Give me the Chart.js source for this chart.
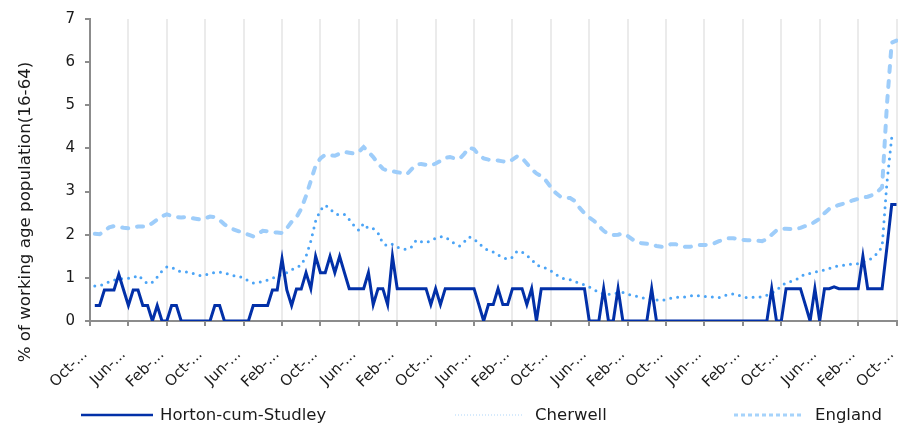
<!DOCTYPE html>
<html>
<head>
<meta charset="utf-8">
<script src="https://cdn.jsdelivr.net/npm/chart.js@4.4.1/dist/chart.umd.min.js"></script>
<style>
html,body{margin:0;padding:0;background:#ffffff;}
#wrap{width:898px;height:425px;position:relative;}
</style>
</head>
<body>
<div id="wrap"><canvas id="c" width="898" height="425"></canvas></div>
<script>
// ---------- DATA ----------
const categories = [
  "Oct-06","Nov-06","Dec-06",
  "Jan-07","Feb-07","Mar-07","Apr-07","May-07","Jun-07","Jul-07","Aug-07","Sep-07","Oct-07","Nov-07","Dec-07",
  "Jan-08","Feb-08","Mar-08","Apr-08","May-08","Jun-08","Jul-08","Aug-08","Sep-08","Oct-08","Nov-08","Dec-08",
  "Jan-09","Feb-09","Mar-09","Apr-09","May-09","Jun-09","Jul-09","Aug-09","Sep-09","Oct-09","Nov-09","Dec-09",
  "Jan-10","Feb-10","Mar-10","Apr-10","May-10","Jun-10","Jul-10","Aug-10","Sep-10","Oct-10","Nov-10","Dec-10",
  "Jan-11","Feb-11","Mar-11","Apr-11","May-11","Jun-11","Jul-11","Aug-11","Sep-11","Oct-11","Nov-11","Dec-11",
  "Jan-12","Feb-12","Mar-12","Apr-12","May-12","Jun-12","Jul-12","Aug-12","Sep-12","Oct-12","Nov-12","Dec-12",
  "Jan-13","Feb-13","Mar-13","Apr-13","May-13","Jun-13","Jul-13","Aug-13","Sep-13","Oct-13","Nov-13","Dec-13",
  "Jan-14","Feb-14","Mar-14","Apr-14","May-14","Jun-14","Jul-14","Aug-14","Sep-14","Oct-14","Nov-14","Dec-14",
  "Jan-15","Feb-15","Mar-15","Apr-15","May-15","Jun-15","Jul-15","Aug-15","Sep-15","Oct-15","Nov-15","Dec-15",
  "Jan-16","Feb-16","Mar-16","Apr-16","May-16","Jun-16","Jul-16","Aug-16","Sep-16","Oct-16","Nov-16","Dec-16",
  "Jan-17","Feb-17","Mar-17","Apr-17","May-17","Jun-17","Jul-17","Aug-17","Sep-17","Oct-17","Nov-17","Dec-17",
  "Jan-18","Feb-18","Mar-18","Apr-18","May-18","Jun-18","Jul-18","Aug-18","Sep-18","Oct-18","Nov-18","Dec-18",
  "Jan-19","Feb-19","Mar-19","Apr-19","May-19","Jun-19","Jul-19","Aug-19","Sep-19","Oct-19","Nov-19","Dec-19",
  "Jan-20","Feb-20","Mar-20","Apr-20","May-20","Jun-20","Jul-20","Aug-20","Sep-20","Oct-20"
];

const hortonValues = [null,
  0.36, 0.36, 0.72, 0.72, 0.72, 1.08, 0.72, 0.36, 0.72, 0.72,
  0.36, 0.36, 0, 0.36, 0, 0, 0.36, 0.36, 0, 0,
  0, 0, 0, 0, 0, 0.36, 0.36, 0, 0, 0,
  0, 0, 0, 0.36, 0.36, 0.36, 0.36, 0.72, 0.72, 1.44,
  0.72, 0.36, 0.74, 0.74, 1.12, 0.75, 1.5, 1.12, 1.12, 1.5,
  1.12, 1.5, 1.12, 0.75, 0.75, 0.75, 0.75, 1.12, 0.38, 0.75,
  0.75, 0.38, 1.5, 0.75, 0.75, 0.75, 0.75, 0.75, 0.75, 0.75,
  0.38, 0.75, 0.38, 0.75, 0.75, 0.75, 0.75, 0.75, 0.75, 0.75,
  0.38, 0, 0.38, 0.38, 0.75, 0.38, 0.38, 0.75, 0.75, 0.75,
  0.38, 0.75, 0, 0.75, 0.75, 0.75, 0.75, 0.75, 0.75, 0.75,
  0.75, 0.75, 0.75, 0, 0, 0, 0.75, 0, 0, 0.75,
  0, 0, 0, 0, 0, 0, 0.75, 0, 0, 0,
  0, 0, 0, 0, 0, 0, 0, 0, 0, 0,
  0, 0, 0, 0, 0, 0, 0, 0, 0, 0,
  0, 0.75, 0, 0, 0.75, 0.75, 0.75, 0.75, 0.38, 0,
  0.75, 0, 0.75, 0.75, 0.79, 0.75, 0.75, 0.75, 0.75, 0.75,
  1.5, 0.75, 0.75, 0.75, 0.75, 1.7, 2.7, 2.7
];

const cherwellValues = [null,
  0.81, 0.82, 0.86, 0.91, 0.95, 0.97, 0.99, 0.99, 1.0, 1.06,
  0.96, 0.86, 0.9, 1.02, 1.16, 1.25, 1.25, 1.17, 1.14, 1.14,
  1.11, 1.09, 1.05, 1.07, 1.09, 1.13, 1.13, 1.12, 1.08, 1.05,
  1.04, 0.99, 0.93, 0.88, 0.89, 0.92, 0.95, 0.99, 1.04, 1.07,
  1.12, 1.19, 1.23, 1.3, 1.5, 1.85, 2.32, 2.57, 2.69, 2.6,
  2.49, 2.45, 2.47, 2.35, 2.21, 2.1, 2.26, 2.14, 2.14, 2.04,
  1.8, 1.74, 1.78, 1.71, 1.67, 1.66, 1.72, 1.88, 1.84, 1.82,
  1.86, 1.92, 1.95, 1.95, 1.87, 1.79, 1.74, 1.84, 1.95, 1.9,
  1.8, 1.7, 1.63, 1.6, 1.53, 1.47, 1.43, 1.48, 1.62, 1.6,
  1.52, 1.43, 1.3, 1.26, 1.22, 1.16, 1.08, 1.01, 0.97, 0.96,
  0.92, 0.87, 0.84, 0.79, 0.73, 0.66, 0.63, 0.62, 0.63, 0.65,
  0.66, 0.62, 0.59, 0.57, 0.54, 0.51, 0.5, 0.49, 0.47, 0.5,
  0.53, 0.55, 0.55, 0.56, 0.58, 0.6, 0.58, 0.57, 0.56, 0.55,
  0.54, 0.58, 0.62, 0.63, 0.6, 0.56, 0.54, 0.55, 0.55, 0.56,
  0.6, 0.65, 0.7, 0.82, 0.88, 0.92, 0.95, 1.03, 1.09, 1.1,
  1.13, 1.16, 1.18, 1.22, 1.26, 1.28, 1.29, 1.31, 1.32, 1.33,
  1.37, 1.41, 1.46, 1.57, 1.72, 3.2, 4.25, 4.3
];

const englandValues = [null,
  2.02, 2.01, 2.09, 2.17, 2.2, 2.18, 2.16, 2.15, 2.17, 2.19,
  2.19, 2.19, 2.27, 2.35, 2.43, 2.47, 2.44, 2.41, 2.4, 2.41,
  2.39, 2.37, 2.35, 2.38, 2.42, 2.41, 2.34, 2.24, 2.16, 2.12,
  2.08, 2.05, 2.0, 1.96, 2.02, 2.09, 2.08, 2.06, 2.05, 2.04,
  2.15, 2.3, 2.4, 2.6, 2.9, 3.25, 3.6, 3.77, 3.85, 3.84,
  3.83, 3.88, 3.92, 3.9, 3.88, 3.92, 4.03, 3.92, 3.8, 3.65,
  3.53, 3.48, 3.47, 3.45, 3.43, 3.4, 3.52, 3.63, 3.64, 3.62,
  3.6, 3.65, 3.71, 3.78, 3.8, 3.77, 3.76, 3.88, 4.02, 3.98,
  3.85, 3.77, 3.74, 3.73, 3.72, 3.7, 3.68, 3.74, 3.82, 3.78,
  3.65, 3.52, 3.42, 3.36, 3.25, 3.1, 2.97, 2.88, 2.86, 2.85,
  2.78, 2.62, 2.5, 2.4, 2.32, 2.2, 2.09, 2.01, 1.99, 2.0,
  2.03, 1.97, 1.89, 1.83, 1.8, 1.79, 1.77, 1.74, 1.72, 1.74,
  1.78, 1.78, 1.75, 1.72, 1.72, 1.74, 1.76, 1.76, 1.77, 1.8,
  1.85, 1.88, 1.92, 1.92, 1.9, 1.88, 1.87, 1.87, 1.86, 1.85,
  1.9, 2.0, 2.1, 2.14, 2.14, 2.13, 2.13, 2.16, 2.2, 2.23,
  2.3, 2.37, 2.5, 2.6, 2.65, 2.69, 2.72, 2.76, 2.8, 2.83,
  2.86, 2.88, 2.92, 2.99, 3.1, 5.0, 6.45, 6.5
];

const seriesNames = ["Horton-cum-Studley", "Cherwell", "England"];
const yAxisTitle = "% of working age population(16-64)";
const yMin = 0, yMax = 7, yStep = 1;
const labelEvery = 8;

// ---------- STYLE ----------
const FONT = "'DejaVu Sans', 'Liberation Sans', sans-serif";
const AXIS_GREY = "#8c8c8c";
const GRID_GREY = "#ebebeb";
const TEXT = "#1a1a1a";
const C_HORTON = "#0230a8";
const C_CHERWELL = "#4ba4f6";
const C_ENGLAND = "#9ecdfa";

const legendItems = [
  { name: seriesNames[0], x1: 81,  x2: 153, tx: 160, color: C_HORTON,  width: 2.5, dash: [],     cap: "butt" },
  { name: seriesNames[1], x1: 455, x2: 524, tx: 535, color: "#d6eafc", width: 2,   dash: [1, 2], cap: "butt" },
  { name: seriesNames[2], x1: 734, x2: 803, tx: 815, color: "#a6d3fb", width: 3,   dash: [4, 3], cap: "butt" }
];
const LEGEND_Y = 415;

const legendPlugin = {
  id: "bottomLegend",
  afterDraw(chart) {
    const ctx = chart.ctx;
    ctx.save();
    legendItems.forEach(it => {
      ctx.beginPath();
      ctx.setLineDash(it.dash);
      ctx.lineCap = it.cap;
      ctx.strokeStyle = it.color;
      ctx.lineWidth = it.width;
      ctx.moveTo(it.x1, LEGEND_Y);
      ctx.lineTo(it.x2, LEGEND_Y);
      ctx.stroke();
      ctx.setLineDash([]);
      ctx.fillStyle = TEXT;
      ctx.font = "16.5px " + FONT;
      ctx.textAlign = "left";
      ctx.textBaseline = "middle";
      ctx.fillText(it.name, it.tx, LEGEND_Y + 1);
    });
    ctx.restore();
  }
};

const yTitlePlugin = {
  id: "yTitle",
  afterDraw(chart) {
    const ctx = chart.ctx;
    ctx.save();
    ctx.translate(26, 212);
    ctx.rotate(-Math.PI / 2);
    ctx.fillStyle = TEXT;
    ctx.font = "16.7px " + FONT;
    ctx.textAlign = "center";
    ctx.textBaseline = "middle";
    ctx.fillText(yAxisTitle, 0, 0);
    ctx.restore();
  }
};

new Chart(document.getElementById("c"), {
  type: "line",
  data: {
    labels: categories,
    datasets: [
      { label: seriesNames[0], data: hortonValues, borderColor: C_HORTON, borderWidth: 3,
        pointRadius: 0, tension: 0, fill: false, borderJoinStyle: "miter" },
      { label: seriesNames[1], data: cherwellValues, borderColor: C_CHERWELL, borderWidth: 3,
        borderDash: [0, 7], borderCapStyle: "round", pointRadius: 0, tension: 0, fill: false },
      { label: seriesNames[2], data: englandValues, borderColor: C_ENGLAND, borderWidth: 4,
        borderDash: [6, 9], borderCapStyle: "round", pointRadius: 0, tension: 0, fill: false }
    ]
  },
  options: {
    responsive: false,
    animation: false,
    devicePixelRatio: 1,
    layout: { padding: { top: 18, right: 1.5, bottom: 20, left: 0 } },
    plugins: { legend: { display: false }, tooltip: { enabled: false } },
    scales: {
      x: {
        type: "category",
        offset: false,
        grid: {
          color: c => (c.index % labelEvery === 0 && c.index > 0) ? GRID_GREY : "rgba(0,0,0,0)",
          lineWidth: 2,
          drawTicks: true,
          tickLength: 5,
          tickWidth: 2,
          tickColor: c => (c.index % labelEvery === 0) ? AXIS_GREY : "rgba(0,0,0,0)"
        },
        border: { display: true, color: AXIS_GREY, width: 2 },
        ticks: {
          autoSkip: false,
          maxRotation: 45,
          minRotation: 45,
          padding: 20,
          labelOffset: -5,
          color: TEXT,
          font: { family: FONT, size: 15 },
          callback: function (v, i) {
            return i % labelEvery === 0 ? categories[i].slice(0, 4) + "..." : "";
          }
        },
        afterFit: s => { s.height = 84; s.paddingLeft = 0; s.paddingRight = 0; }
      },
      y: {
        min: yMin,
        max: yMax,
        ticks: { stepSize: yStep, color: TEXT, font: { family: FONT, size: 15 }, padding: 10 },
        grid: { drawOnChartArea: false, drawTicks: true, tickLength: 5, tickColor: AXIS_GREY, lineWidth: 2 },
        border: { display: true, color: AXIS_GREY, width: 2 },
        afterFit: s => { s.width = 90; }
      }
    }
  },
  plugins: [legendPlugin, yTitlePlugin]
});
</script>
</body>
</html>
